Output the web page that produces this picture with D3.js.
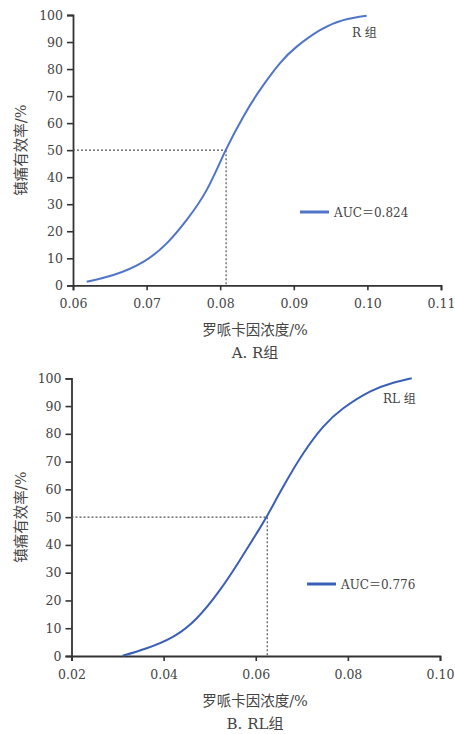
<!DOCTYPE html>
<html>
<head>
<meta charset="utf-8">
<script src="https://d3js.org/d3.v7.min.js"></script>
<style>
  body { margin: 0; background: #fff; }
  svg text { font-family: "DejaVu Serif", "Noto Sans CJK SC", serif; fill: #444; }
</style>
</head>
<body>
<div id="chart"></div>
<script>
// panel A: R group
const xA = [0.06186, 0.06548, 0.06955, 0.07273, 0.07545, 0.07817, 0.08075, 0.08314, 0.08541, 0.08813, 0.0904, 0.09356, 0.09673, 0.0999];
const yA = [1.35, 3.8, 8.7, 15.5, 24.2, 35.3, 50, 62.4, 72.3, 82.2, 88.3, 94.4, 98.1, 99.7];
const ticksA = [0.06, 0.07, 0.08, 0.09, 0.10, 0.11];
const ticksLabelA = ["0.06", "0.07", "0.08", "0.09", "0.10", "0.11"];
const ec50A = 0.0808;
const aucA = "0.824";

// panel B: RL group
const xB = [0.0311, 0.03633, 0.0421, 0.0472, 0.05224, 0.05658, 0.0602, 0.06238, 0.06598, 0.07033, 0.07467, 0.07901, 0.0848, 0.08987, 0.09386];
const yB = [0.1, 2.8, 7, 13.6, 23.8, 34.6, 44.2, 50.2, 61, 73, 82.6, 89.2, 95.2, 98.4, 100];
const ticksB = [0.02, 0.04, 0.06, 0.08, 0.10];
const ticksLabelB = ["0.02", "0.04", "0.06", "0.08", "0.10"];
const ec50B = 0.0625;
const aucB = "0.776";

const yTicks = [0, 10, 20, 30, 40, 50, 60, 70, 80, 90, 100];

const svg = d3.select("#chart").append("svg")
    .attr("width", 455).attr("height", 734);

function panel(opts) {
    const g = svg.append("g");
    const x = d3.scaleLinear().domain(opts.xDomain).range([opts.left, opts.right]);
    const y = d3.scaleLinear().domain([0, 100]).range([opts.bottom, opts.top]);

    const yAxis = g.append("g")
        .attr("transform", "translate(" + opts.left + ",0)")
        .call(d3.axisLeft(y).tickValues(yTicks).tickSize(6).tickPadding(4));
    const xAxis = g.append("g")
        .attr("transform", "translate(0," + opts.bottom + ")")
        .call(d3.axisBottom(x).tickValues(opts.ticks).tickFormat((d, i) => opts.tickLabels[i]).tickSize(5).tickPadding(9));
    [xAxis, yAxis].forEach(a => {
        a.select(".domain").attr("stroke", "#333").attr("stroke-width", 1.8);
        a.selectAll(".tick line").attr("stroke", "#333").attr("stroke-width", 1.6);
        a.selectAll(".tick text").attr("font-size", 12.5)
            .attr("font-family", "DejaVu Serif").attr("fill", "#444");
    });

    // dashed guides at 50%
    g.append("line")
        .attr("x1", x(opts.xDomain[0])).attr("x2", x(opts.ec50))
        .attr("y1", y(50)).attr("y2", y(50))
        .attr("stroke", "#555").attr("stroke-width", 1.2).attr("stroke-dasharray", "2,2");
    g.append("line")
        .attr("x1", x(opts.ec50)).attr("x2", x(opts.ec50))
        .attr("y1", y(50)).attr("y2", y(0))
        .attr("stroke", "#555").attr("stroke-width", 1.2).attr("stroke-dasharray", "2,2");

    const pts = opts.xs.map((d, i) => [d, opts.ys[i]]);
    g.append("path")
        .datum(pts)
        .attr("fill", "none")
        .attr("stroke", opts.color)
        .attr("stroke-width", 2)
        .attr("d", d3.line().x(d => x(d[0])).y(d => y(d[1])).curve(d3.curveNatural));

    // legend
    g.append("line")
        .attr("x1", opts.legX).attr("x2", opts.legX + 29)
        .attr("y1", opts.legY).attr("y2", opts.legY)
        .attr("stroke", opts.color).attr("stroke-width", 3);
    const lt = g.append("text")
        .attr("x", opts.legX + 34).attr("y", opts.legY + 5)
        .attr("font-size", 12);
    lt.append("tspan").text("AUC");
    lt.append("tspan").attr("font-family", "Noto Sans CJK SC").text("＝");
    lt.append("tspan").text(opts.auc);

    g.append("text")
        .attr("x", opts.tagX).attr("y", opts.tagY)
        .attr("font-size", 12).text(opts.tag);

    g.append("text")
        .attr("x", 255).attr("y", opts.bottom + 50)
        .attr("text-anchor", "middle").attr("font-size", 14.5)
        .attr("font-family", "Noto Sans CJK SC")
        .text("罗哌卡因浓度/%");
    g.append("text")
        .attr("x", 255).attr("y", opts.bottom + 73)
        .attr("text-anchor", "middle").attr("font-size", 15).attr("fill", "#222")
        .text(opts.caption);
    g.append("text")
        .attr("transform", "translate(26," + ((opts.top + opts.bottom) / 2) + ") rotate(-90)")
        .attr("text-anchor", "middle").attr("font-size", 14.5)
        .attr("font-family", "Noto Sans CJK SC")
        .text("镇痛有效率/%");
}

panel({
    xDomain: [0.06, 0.11], ticks: ticksA, tickLabels: ticksLabelA,
    xs: xA, ys: yA, ec50: ec50A,
    left: 73, right: 441, top: 15, bottom: 285.3,
    color: "#4f74c8", legX: 300, legY: 212, auc: aucA,
    tagX: 352, tagY: 37, tag: "R 组", caption: "A. R组"
});

panel({
    xDomain: [0.02, 0.10], ticks: ticksB, tickLabels: ticksLabelB,
    xs: xB, ys: yB, ec50: ec50B,
    left: 71.5, right: 440, top: 378.3, bottom: 656,
    color: "#3a5fb8", legX: 307, legY: 584, auc: aucB,
    tagX: 383, tagY: 403, tag: "RL 组", caption: "B. RL组"
});
</script>
</body>
</html>
